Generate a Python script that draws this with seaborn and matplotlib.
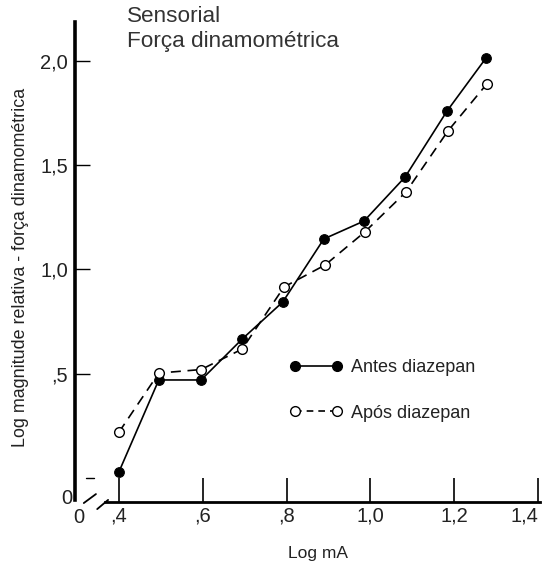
import matplotlib
matplotlib.use("Agg")
import matplotlib.pyplot as plt
import seaborn as sns
import pandas as pd
from matplotlib.lines import Line2D

sns.set_style("white")
plt.rcParams['font.family'] = ['Liberation Sans', 'DejaVu Sans']

# Data (log mA vs log relative magnitude)
log_ma_antes = [0.40, 0.495, 0.596, 0.694, 0.791, 0.889, 0.985, 1.083, 1.183, 1.276]
mag_antes = [0.03, 0.47, 0.47, 0.666, 0.844, 1.146, 1.232, 1.443, 1.759, 2.013]
log_ma_apos = [0.40, 0.495, 0.596, 0.694, 0.794, 0.892, 0.987, 1.085, 1.185, 1.278]
mag_apos = [0.22, 0.503, 0.52, 0.618, 0.916, 1.021, 1.18, 1.371, 1.663, 1.889]

x_ticks = [0.4, 0.6, 0.8, 1.0, 1.2, 1.4]
x_ticklabels = [",4", ",6", ",8", "1,0", "1,2", "1,4"]
y_ticks = [0.5, 1.0, 1.5, 2.0]
y_ticklabels = [",5", "1,0", "1,5", "2,0"]
series_labels = ["Antes diazepan", "Após diazepan"]
title_text = "Sensorial\nForça dinamométrica"

W, H = 544, 565
fig = plt.figure(figsize=(W / 100, H / 100), dpi=100)
ax = fig.add_axes([75 / W, 1 - 502 / H, 465 / W, 480 / H])

df_a = pd.DataFrame({"x": log_ma_antes, "y": mag_antes})
df_b = pd.DataFrame({"x": log_ma_apos, "y": mag_apos})
sns.lineplot(data=df_a, x="x", y="y", ax=ax, color="black", linewidth=1.2,
             marker="o", markersize=7, markerfacecolor="black", markeredgecolor="black",
             sort=False, clip_on=False)
sns.lineplot(data=df_b, x="x", y="y", ax=ax, color="black", linewidth=1.2,
             marker="o", markersize=7, markerfacecolor="white", markeredgecolor="black",
             markeredgewidth=1.0, sort=False, clip_on=False)
ax.lines[-1].set_dashes([6, 4])

ax.set_xlim(0.295, 1.405)
ax.set_ylim(-0.115, 2.186)
ax.set_xticks(x_ticks)
ax.set_xticklabels(x_ticklabels)
ax.set_yticks(y_ticks)
ax.set_yticklabels(y_ticklabels)
ax.tick_params(axis="x", direction="in", length=17, width=1.2, labelsize=14.5, pad=3,
               colors="black", labelcolor="#222222")
ax.tick_params(axis="y", direction="in", length=11, width=1.0, labelsize=14.5, pad=5,
               colors="black", labelcolor="#222222")
ax.tick_params(bottom=True, left=True)
xl = ax.get_xticklabels()
xl[-1].set_horizontalalignment("right")
xl[-1].set_x(1.4)

for s in ["top", "right"]:
    ax.spines[s].set_visible(False)
ax.spines["left"].set_linewidth(2.6)
ax.spines["left"].set_color("black")
ax.spines["bottom"].set_linewidth(2.0)
ax.spines["bottom"].set_color("black")
ax.spines["bottom"].set_bounds(0.367, 1.405)
ax.spines["left"].set_bounds(-0.105, 2.186)

# zero tick dash and axis break marks
ax.plot([0.321, 0.340], [0.0, 0.0], color="black", lw=1.0, clip_on=False)
ax.plot([0.316, 0.345], [-0.12, -0.077], color="black", lw=1.3, clip_on=False)
ax.plot([0.348, 0.374], [-0.149, -0.105], color="black", lw=1.3, clip_on=False)

ax.text(0.288, -0.10, "0", ha="right", va="center", fontsize=14.5, color="#222222")
ax.text(0.305, -0.19, "0", ha="center", va="center", fontsize=14.5, color="#222222")

ax.set_xlabel("Log mA", fontsize=12.5, color="#222222")
ax.xaxis.set_label_coords((318 - 75) / 465, -(546 - 502) / 480)
ax.set_ylabel("Log magnitude relativa - força dinamométrica", fontsize=12.9, color="#222222")
ax.yaxis.set_label_coords(-(75 - 29) / 465, (502 - 267) / 480)

fig.text(127 / W, 1 - 6 / H, title_text, ha="left", va="top", fontsize=16.2,
         color="#333333", linespacing=1.25)

handles = [
    Line2D([0], [0], color="black", lw=1.2, marker="o", markersize=7,
           markerfacecolor="black", markeredgecolor="black"),
    Line2D([0], [0], color="black", lw=1.2, marker="o", markersize=7,
           markerfacecolor="white", markeredgecolor="black", dashes=[4, 3]),
]
leg = ax.legend(handles, series_labels, loc="upper left", bbox_to_anchor=(0.427, 0.332),
                frameon=False, numpoints=2, handlelength=2.93, fontsize=13,
                labelspacing=1.6, handletextpad=0.45)
for t in leg.get_texts():
    t.set_color("#222222")

fig.savefig("out.png", dpi=100)
